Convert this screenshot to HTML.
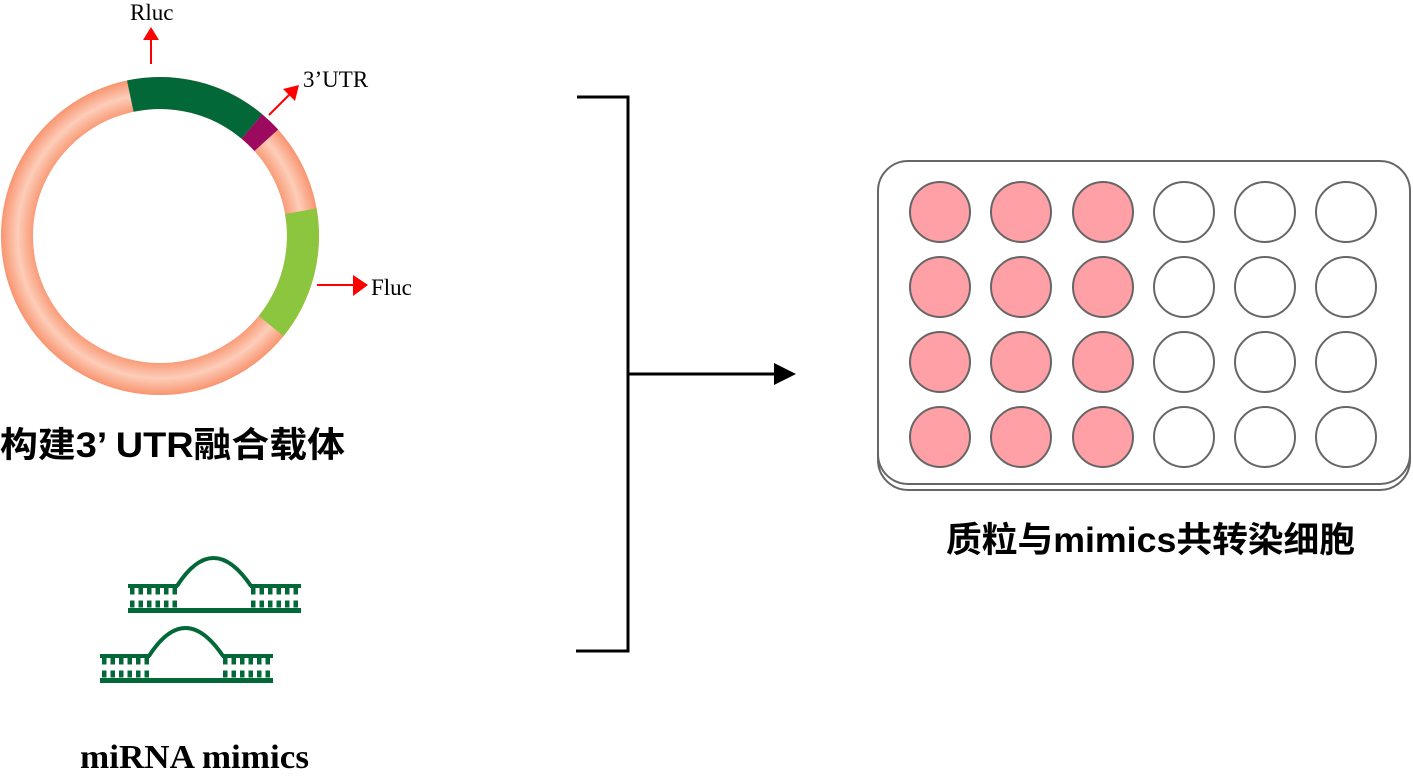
<!DOCTYPE html>
<html><head><meta charset="utf-8"><style>
html,body{margin:0;padding:0;background:#fff;width:1413px;height:781px;overflow:hidden}
</style></head><body>
<svg width="1413" height="781" viewBox="0 0 1413 781" xmlns="http://www.w3.org/2000/svg">
<defs>
<radialGradient id="rg" gradientUnits="userSpaceOnUse" cx="160" cy="236" r="160">
<stop offset="0.78" stop-color="#f8956f"/>
<stop offset="0.89" stop-color="#fdcdb9"/>
<stop offset="1" stop-color="#f8916b"/>
</radialGradient>
</defs>
<circle cx="160" cy="236" r="143" fill="none" stroke="url(#rg)" stroke-width="32"/>
<path d="M130.3 96.1 A143 143 0 0 1 251.9 126.5" fill="none" stroke="#036838" stroke-width="32"/>
<path d="M251.9 126.5 A143 143 0 0 1 266.3 140.3" fill="none" stroke="#9b0a5f" stroke-width="32"/>
<path d="M300.8 211.2 A143 143 0 0 1 271.1 326" fill="none" stroke="#8cc63f" stroke-width="32"/>
<g stroke="red" stroke-width="2" fill="none">
<line x1="151" y1="64" x2="151" y2="38"/>
<line x1="269" y1="115" x2="289" y2="95"/>
<line x1="317" y1="285" x2="356" y2="285"/>
</g>
<g fill="red">
<polygon points="143,40 151,27 159,40"/>
<polygon points="283,89 299,85 295,101"/>
<polygon points="353,275 368,285 353,296"/>
</g>
<g font-family="Liberation Serif, serif" font-size="23" fill="#000">
<text x="130" y="20">Rluc</text>
<text x="303" y="87">3’UTR</text>
<text x="371" y="295">Fluc</text>
</g>
<text x="0" y="457" textLength="345" lengthAdjust="spacingAndGlyphs" font-family="Liberation Sans, 'Noto Sans CJK SC', sans-serif" font-weight="bold" font-size="35">构建3’ UTR融合载体</text>
<g fill="#036838">
<rect x="128" y="584" width="50" height="4"/>
<rect x="250" y="584" width="51" height="4"/>
<rect x="128" y="608" width="173" height="5"/>
<rect x="100" y="654" width="50" height="4"/>
<rect x="222" y="654" width="51" height="4"/>
<rect x="100" y="678" width="173" height="5"/>
</g>
<g stroke="#036838" fill="none" stroke-width="4">
<path d="M177 586 Q213 530 251 586"/>
<path d="M149 656 Q185 600 223 656"/>
</g>
<g stroke="#036838" stroke-width="4.5" stroke-dasharray="4.5 4">
<line x1="130" y1="591" x2="178" y2="591" stroke-width="7"/><line x1="130" y1="604" x2="178" y2="604" stroke-width="7"/>
<line x1="251" y1="591" x2="300" y2="591" stroke-width="7"/><line x1="251" y1="604" x2="300" y2="604" stroke-width="7"/>
<line x1="102" y1="661" x2="150" y2="661" stroke-width="7"/><line x1="102" y1="674" x2="150" y2="674" stroke-width="7"/>
<line x1="223" y1="661" x2="272" y2="661" stroke-width="7"/><line x1="223" y1="674" x2="272" y2="674" stroke-width="7"/>
</g>
<text x="80" y="768" textLength="229" lengthAdjust="spacingAndGlyphs" font-family="Liberation Serif, serif" font-weight="bold" font-size="34">miRNA mimics</text>
<g stroke="#000" stroke-width="3" fill="none">
<polyline points="577,97 628,97 628,651 576,651"/>
<line x1="628" y1="374" x2="776" y2="374"/>
</g>
<polygon points="774,363 796,374 774,385" fill="#000"/>
<rect x="878" y="167" width="532" height="323" rx="30" fill="#fff" stroke="#666" stroke-width="2"/>
<rect x="878" y="161" width="532" height="323" rx="30" fill="#fff" stroke="#666" stroke-width="2"/>
<g stroke="#666" stroke-width="2">
<g fill="#ff9fa6">
<circle cx="940" cy="212" r="30"/><circle cx="1021" cy="212" r="30"/><circle cx="1103" cy="212" r="30"/>
<circle cx="940" cy="287" r="30"/><circle cx="1021" cy="287" r="30"/><circle cx="1103" cy="287" r="30"/>
<circle cx="940" cy="362" r="30"/><circle cx="1021" cy="362" r="30"/><circle cx="1103" cy="362" r="30"/>
<circle cx="940" cy="437" r="30"/><circle cx="1021" cy="437" r="30"/><circle cx="1103" cy="437" r="30"/>
</g>
<g fill="#fff">
<circle cx="1184" cy="212" r="30"/><circle cx="1265" cy="212" r="30"/><circle cx="1346" cy="212" r="30"/>
<circle cx="1184" cy="287" r="30"/><circle cx="1265" cy="287" r="30"/><circle cx="1346" cy="287" r="30"/>
<circle cx="1184" cy="362" r="30"/><circle cx="1265" cy="362" r="30"/><circle cx="1346" cy="362" r="30"/>
<circle cx="1184" cy="437" r="30"/><circle cx="1265" cy="437" r="30"/><circle cx="1346" cy="437" r="30"/>
</g>
</g>
<text x="946" y="552" textLength="409" lengthAdjust="spacingAndGlyphs" font-family="Liberation Sans, 'Noto Sans CJK SC', sans-serif" font-weight="bold" font-size="35">质粒与mimics共转染细胞</text>
</svg>
</body></html>
